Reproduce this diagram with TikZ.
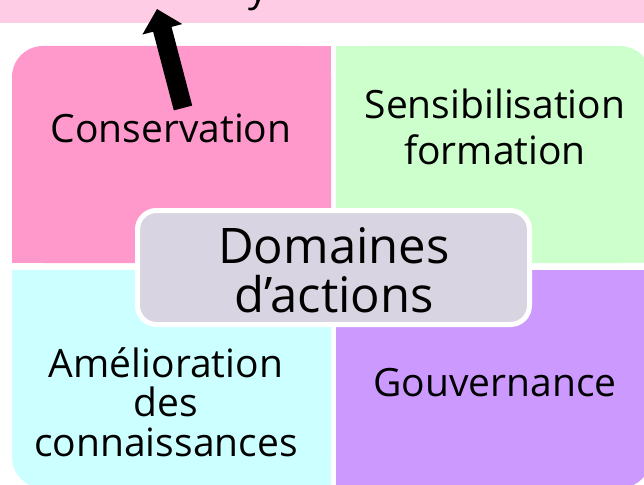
\documentclass[tikz,border=0pt]{standalone}
\usepackage{fontspec}
\setmainfont{Open Sans}
\usetikzlibrary{arrows.meta}
\definecolor{bandpink}{RGB}{255,204,229}
\definecolor{qpink}{RGB}{255,153,204}
\definecolor{qgreen}{RGB}{204,255,204}
\definecolor{qcyan}{RGB}{204,255,255}
\definecolor{qpurple}{RGB}{204,153,255}
\definecolor{domfill}{RGB}{217,212,225}
\tikzset{
  qlabel/.style={align=center, anchor=base, inner sep=0pt, text=black},
  qfont/.style={font=\fontsize{39}{#1}\selectfont},
  bigarrow/.style={line width=19pt, -{Triangle[length=21pt,width=40pt]}, black},
}
\begin{document}
\begin{tikzpicture}[x=1pt,y=-1pt]
\useasboundingbox (0,0) rectangle (644,484);
\fill[white] (0,0) rectangle (644,484);
% top band
\fill[bandpink] (0,-5) rectangle (644,23);
\node[qlabel, qfont=46] (ytext) at (258,2) {y};
% quadrants
\fill[qpink, rounded corners=31pt] (12,46) rectangle (331,263);
\fill[qpink] (60,46) rectangle (331,263);
\fill[qpink] (12,100) rectangle (331,263);
\fill[qgreen, rounded corners=31pt] (336,46) rectangle (651,263);
\fill[qgreen] (336,46) rectangle (600,263);
\fill[qgreen] (336,100) rectangle (651,263);
\fill[qcyan, rounded corners=31pt] (12,270) rectangle (331,488);
\fill[qcyan] (60,270) rectangle (331,488);
\fill[qcyan] (12,270) rectangle (331,420);
\fill[qpurple, rounded corners=31pt] (336,270) rectangle (651,488);
\fill[qpurple] (336,270) rectangle (600,488);
\fill[qpurple] (336,270) rectangle (651,420);
% labels (base = last line's baseline)
\node[qlabel, qfont=46] (cons) at (171,142) {Conservation};
\node[qlabel, qfont=46] (sens) at (495,164) {Sensibilisation\\formation};
\node[qlabel, qfont=39.5] (amel) at (166,456) {Amélioration\\des\\connaissances};
\node[qlabel, qfont=46] (gouv) at (495,396) {Gouvernance};
% centre
\node[draw=white, line width=5pt, fill=domfill, rounded corners=19pt,
      minimum width=392pt, minimum height=114pt, inner sep=0pt] (dom) at (333.5,267.5) {};
\node[qlabel, font=\fontsize{49}{49}\selectfont] (domtext) at (334,312) {Domaines\\d’actions};
% arrow
\coordinate (atail) at (183,108);
\coordinate (atip) at (157,9);
\draw[bigarrow] (atail) -- (atip);
\end{tikzpicture}
\end{document}
